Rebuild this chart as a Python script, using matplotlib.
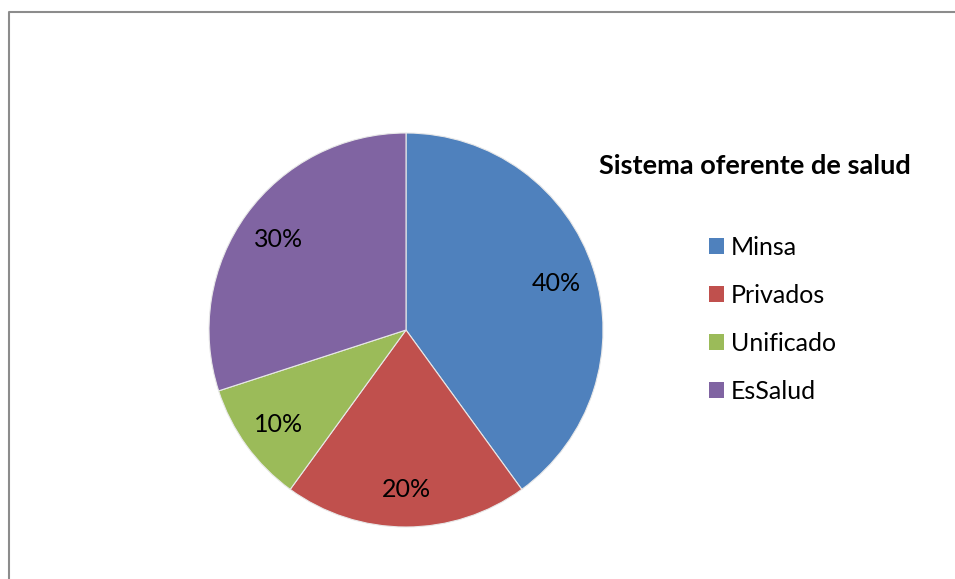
import matplotlib
matplotlib.use("Agg")
import matplotlib.pyplot as plt
from matplotlib.lines import Line2D
from matplotlib.patches import Patch

plt.rcParams['font.family'] = ['Lato', 'DejaVu Sans']

# data
labels = ["Minsa", "Privados", "Unificado", "EsSalud"]
values = [40, 20, 10, 30]
colors = ["#4F81BD", "#C0504D", "#9BBB59", "#8064A2"]
title = "Sistema oferente de salud"

W, H = 955, 579
fig = plt.figure(figsize=(W / 100, H / 100), dpi=100)
fig.patch.set_facecolor("white")

# outer chart frame: only left and top edges are inside the picture
fx, fy = 8.5 / W, 1 - 11.5 / H
fig.add_artist(Line2D([fx, fx, 1.01], [-0.01, fy, fy], transform=fig.transFigure,
                      color="#8c8c8c", linewidth=1.5))

# pie axes: center (406, 330), radius 197 px
cx, cy, r = 406, 330, 197
ax = fig.add_axes([(cx - r) / W, (H - cy - r) / H, 2 * r / W, 2 * r / H])
wedges, texts, autotexts = ax.pie(
    values, colors=colors, startangle=90, counterclock=False,
    autopct="%1.0f%%", pctdistance=0.8, radius=1,
    wedgeprops=dict(edgecolor="#e8e8e8", linewidth=0.8),
    textprops=dict(fontsize=18, color="black"))
for t in autotexts:
    t.set_va("center_baseline")
ax.set_xlim(-1, 1)
ax.set_ylim(-1, 1)
ax.set_aspect("equal")
ax.axis("off")

fig.text(755 / W, 1 - 166 / H, title, ha="center", va="center",
         fontsize=19.5, fontweight="bold")

handles = [Patch(facecolor=c, edgecolor="none") for c in colors]
fig.legend(handles, labels, loc="upper left",
           bbox_to_anchor=(709 / W, 1 - 236 / H),
           frameon=False, fontsize=18, borderpad=0, borderaxespad=0,
           handlelength=0.6, handleheight=0.6, handletextpad=0.28,
           labelspacing=1.0)

fig.savefig("out.png", dpi=100)
